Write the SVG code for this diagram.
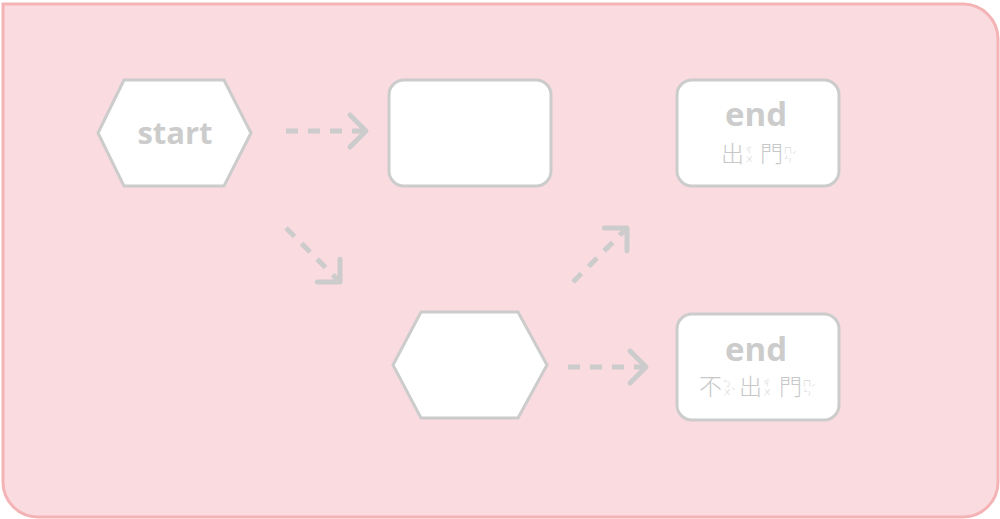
<svg xmlns="http://www.w3.org/2000/svg" width="1000" height="519" viewBox="0 0 1000 519">
<style>
.bg{fill:#fadbe0;stroke:#f4b3b5;stroke-width:3}
.node{fill:#fff;stroke:#cccccc;stroke-width:3}
.lbl{font-family:"Open Sans","Liberation Sans",sans-serif;font-weight:bold;fill:#cccccc;text-anchor:middle}
.cjk{font-family:"Noto Sans CJK TC","Noto Sans CJK SC",sans-serif;fill:#c8c8c8;font-weight:300}
.hz{font-size:23px}
.bp{font-size:8px}
.edge{fill:none;stroke:#cccccc;stroke-width:5;stroke-dasharray:12 10}
.head{fill:none;stroke:#cccccc;stroke-width:5;stroke-linecap:round;stroke-linejoin:round}
</style>
<defs>
<marker id="arr" markerUnits="userSpaceOnUse" markerWidth="40" markerHeight="40" refX="20" refY="20" orient="auto" viewBox="0 0 40 40">
<path class="head" d="M4,4 L20,20 L4,36"/>
</marker>
</defs>
<path class="bg" d="M3,4 H963 A35,35 0 0 1 998,39 V482 A35,35 0 0 1 963,517 H38 A35,35 0 0 1 3,482 Z"/>
<g id="connectors">
<path class="edge" d="M286,131 H366" marker-end="url(#arr)"/>
<path class="edge" d="M286,228 L340,282" marker-end="url(#arr)"/>
<path class="edge" d="M573,282 L627,228" marker-end="url(#arr)"/>
<path class="edge" d="M568,367 H646" marker-end="url(#arr)"/>
</g>
<g id="start">
<polygon class="node" points="98,133 124,80 224,80 251,133 224,186 124,186"/>
<text class="lbl" x="175" y="144" font-size="31">start</text>
</g>
<g id="process">
<rect class="node" x="389" y="80" width="162" height="106" rx="15"/>
</g>
<g id="decision">
<polygon class="node" points="393,365 421,312 518,312 547,365 518,418 421,418"/>
</g>
<g id="end1">
<rect class="node" x="677" y="80" width="162" height="106" rx="15"/>
<text class="lbl" x="756" y="126" font-size="33">end</text>
<g class="cjk">
<text class="hz" x="721" y="162">出</text>
<text class="bp" x="745" y="153">ㄔ</text>
<text class="bp" x="745" y="162">ㄨ</text>
<text class="hz" x="760" y="162">門</text>
<text class="bp" x="784" y="153">ㄇ</text>
<text class="bp" x="784" y="162">ㄣ</text>
<text class="bp" x="792" y="158">ˊ</text>
</g>
</g>
<g id="end2">
<rect class="node" x="677" y="314" width="162" height="106" rx="15"/>
<text class="lbl" x="756" y="361" font-size="33">end</text>
<g class="cjk">
<text class="hz" x="699" y="395">不</text>
<text class="bp" x="723" y="386">ㄅ</text>
<text class="bp" x="723" y="395">ㄨ</text>
<text class="bp" x="731" y="394">ˋ</text>
<text class="hz" x="739" y="395">出</text>
<text class="bp" x="763" y="386">ㄔ</text>
<text class="bp" x="763" y="395">ㄨ</text>
<text class="hz" x="779" y="395">門</text>
<text class="bp" x="803" y="386">ㄇ</text>
<text class="bp" x="803" y="395">ㄣ</text>
<text class="bp" x="811" y="391">ˊ</text>
</g>
</g>
</svg>
